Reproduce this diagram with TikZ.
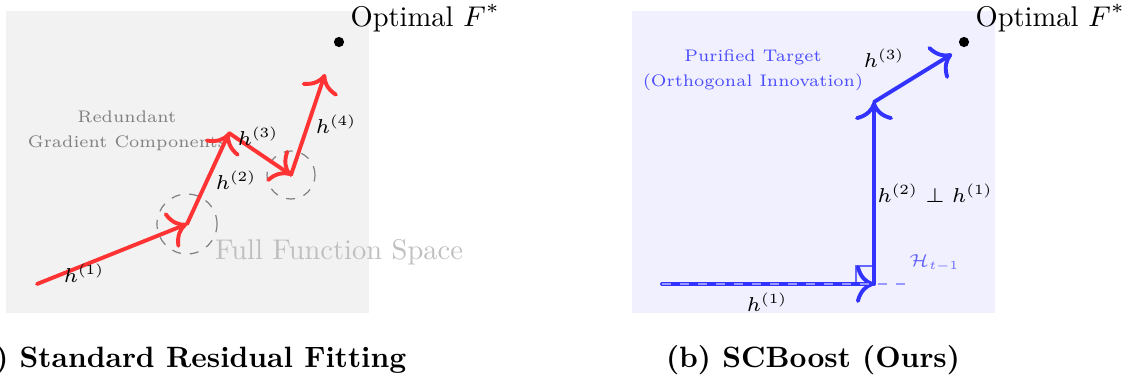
\RequirePackage{fix-cm}
\documentclass[tikz,border=0pt]{standalone}
\usepackage{amsmath}
\usetikzlibrary{arrows.meta}
\begin{document}
\begin{tikzpicture}[x=0.3333pt,y=-0.3333pt,
  panelA/.style={fill=black!5},
  panelB/.style={fill=blue!6},
  vectip/.style={-{To[scale=1.35]}, line width=1.3pt, line cap=round},
  redvec/.style={vectip, draw=red!80},
  bluevec/.style={vectip, draw=blue!80},
  lens/.style={draw=gray, dashed, thin},
  optdot/.style={circle, fill=black, inner sep=0pt, minimum size=3.4pt},
  optlabel/.style={anchor=base west, font=\fontsize{9.5}{11}\selectfont},
  veclabel/.style={font=\fontsize{6.7}{8}\selectfont},
  note/.style={font=\fontsize{5.6}{8.5}\selectfont, align=center},
  subspace/.style={draw=blue!40, dashed, line width=0.6pt},
  rightangle/.style={draw=blue!60, line width=0.4pt},
  caption/.style={font=\fontsize{9.8}{12}\selectfont\bfseries}]
\useasboundingbox (0,0) rectangle (1125,383);

% panel backgrounds
\fill[panelA] (6,11) rectangle (369,313);
\fill[panelB] (632,11) rectangle (995,313);

% ---------- (a) standard residual fitting ----------
\coordinate (r0) at (37,284);
\coordinate (r1) at (187,224);
\coordinate (r2) at (229,133);
\coordinate (r3) at (291,175);
\coordinate (r4) at (325,74);
\node[optdot] (optA) at (339,42) {};
\node[optlabel] (optAlbl) at (340,26) {Optimal $F^*$};

\draw[lens] (r1) circle[radius=10pt];
\draw[lens] (r3) circle[radius=8pt];

\node[note, text=gray] (redund) at (127,131) {Redundant\\Gradient Components};
\node[font=\fontsize{9.5}{11}\selectfont, text=black!25] (fullspace) at (339,252) {Full Function Space};

\draw[redvec] (r0) -- (r1);
\draw[redvec] (r1) -- (r2);
\draw[redvec] (r2) -- (r3);
\draw[redvec] (r3) -- (r4);

\node[veclabel] (ha1) at (84,273) {$h^{(1)}$};
\node[veclabel] (ha2) at (236,180) {$h^{(2)}$};
\node[veclabel] (ha3) at (258,136) {$h^{(3)}$};
\node[veclabel] (ha4) at (336,124) {$h^{(4)}$};

\node[caption] (capA) at (186,360) {(a) Standard Residual Fitting};

% ---------- (b) SCBoost ----------
\coordinate (b0) at (662,284);
\coordinate (b1) at (874,284);
\coordinate (b2) at (874,102);
\coordinate (b3) at (952,54);
\coordinate (hend) at (905,284);
\node[optdot] (optB) at (964,42) {};
\node[optlabel] (optBlbl) at (965,26) {Optimal $F^*$};

\node[note, text=blue!70] (purif) at (753,70) {Purified Target\\(Orthogonal Innovation)};

\draw[rightangle] ([xshift=-6pt]b1) -- ([xshift=-6pt,yshift=6pt]b1) -- ([yshift=6pt]b1);

\draw[bluevec] (b0) -- (b1);
\draw[subspace] (b0) -- (hend);
\draw[bluevec] (b1) -- (b2);
\draw[bluevec] (b2) -- (b3);

\node[font=\fontsize{5.8}{7}\selectfont, text=blue!60] (hsub) at (934,263) {$\mathcal{H}_{t-1}$};
\node[veclabel] (hb1) at (767,302) {$h^{(1)}$};
\node[veclabel] (hb2) at (935,193) {$h^{(2)} \perp h^{(1)}$};
\node[veclabel] (hb3) at (884,58) {$h^{(3)}$};

\node[caption] (capB) at (813,360) {(b) SCBoost (Ours)};
\end{tikzpicture}
\end{document}
